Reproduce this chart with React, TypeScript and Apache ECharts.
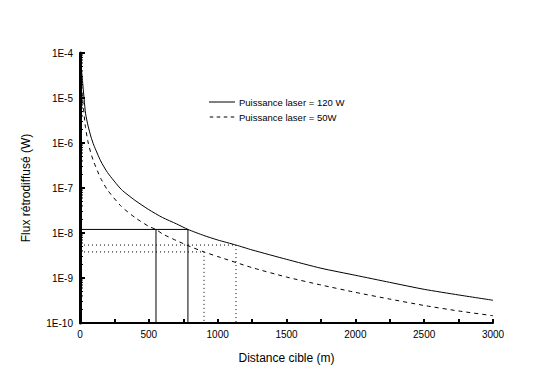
import React, { useEffect, useRef } from "react";
import * as echarts from "echarts";

const distances120 = [4, 10, 20, 40, 60, 80, 100, 150, 200, 300, 400, 500, 600, 700, 784, 900, 1000, 1133, 1250, 1500, 1750, 2000, 2250, 2500, 2750, 3000];
const flux120 = [1e-4, 4.5e-5, 2.1e-5, 4.6e-6, 2.3e-6, 1.36e-6, 9e-7, 4.0e-7, 2.2e-7, 9.3e-8, 5.3e-8, 3.3e-8, 2.2e-8, 1.6e-8, 1.2e-8, 8.8e-9, 7.0e-9, 5.4e-9, 4.2e-9, 2.6e-9, 1.65e-9, 1.15e-9, 8.0e-10, 5.6e-10, 4.2e-10, 3.2e-10];

const distances50 = [8, 20, 40, 60, 80, 100, 150, 200, 300, 400, 500, 552, 600, 700, 800, 901, 1000, 1250, 1500, 1750, 2000, 2250, 2500, 2750, 3000];
const flux50 = [3e-5, 9e-6, 2.2e-6, 1.0e-6, 5.8e-7, 3.8e-7, 1.65e-7, 9e-8, 3.9e-8, 2.2e-8, 1.4e-8, 1.2e-8, 9.5e-9, 6.8e-9, 5.0e-9, 3.8e-9, 3.0e-9, 1.7e-9, 1.05e-9, 7.0e-10, 4.8e-10, 3.4e-10, 2.45e-10, 1.85e-10, 1.45e-10];

// Reference lines (solid): level and the two distances where each curve reaches it
const solidLevel = 1.2e-8;
const solidDistances = [552, 784];
// Dotted references: [distance, level]
const dottedRefs = [[1133, 5.4e-9], [901, 3.8e-9]];

const yMin = 1e-10;
const yMax = 1e-4;
const yTickExponents = [-10, -9, -8, -7, -6, -5, -4];

const name120 = "Puissance laser = 120 W";
const name50 = "Puissance laser = 50W";

const FONT = "Liberation Sans";

export default function App() {
  const ref = useRef<HTMLDivElement>(null);
  useEffect(() => {
    const chart = echarts.init(ref.current!, undefined, { renderer: "svg" });

    const minorTicks: number[][] = [];
    for (let e = yTickExponents[0]; e < yTickExponents[yTickExponents.length - 1]; e++) {
      for (let k = 2; k <= 9; k++) minorTicks.push([0, k * Math.pow(10, e)]);
    }

    const refStyle = { color: "#000", width: 1 };
    const series: any[] = [
      {
        name: name120,
        type: "line",
        data: distances120.map((d, i) => [d, flux120[i]]),
        showSymbol: false,
        symbol: "none",
        smooth: 0.2,
        lineStyle: { color: "#000", width: 1, type: "solid" },
        itemStyle: { color: "#000" },
        z: 5,
      },
      {
        name: name50,
        type: "line",
        data: distances50.map((d, i) => [d, flux50[i]]),
        showSymbol: false,
        symbol: "none",
        smooth: 0.2,
        lineStyle: { color: "#000", width: 1, type: [4, 4] },
        itemStyle: { color: "#000" },
        z: 5,
      },
      {
        name: "refSolidH",
        type: "line",
        data: [[0, solidLevel], [Math.max(...solidDistances), solidLevel]],
        symbol: "none",
        lineStyle: { ...refStyle, type: "solid" },
        silent: true,
      },
      ...solidDistances.map((d, i) => ({
        name: "refSolidV" + i,
        type: "line",
        data: [[d, solidLevel], [d, yMin]],
        symbol: "none",
        lineStyle: { ...refStyle, type: "solid" },
        silent: true,
      })),
      ...dottedRefs.map(([d, v], i) => ({
        name: "refDot" + i,
        type: "line",
        data: [[0, v], [d, v], [d, yMin]],
        symbol: "none",
        lineStyle: { ...refStyle, type: [1, 3] },
        silent: true,
      })),
      {
        name: "minorTicks",
        type: "custom",
        data: minorTicks,
        silent: true,
        clip: false,
        renderItem: (params: any, api: any) => {
          const p = api.coord([api.value(0), api.value(1)]);
          return {
            type: "line",
            shape: { x1: p[0], y1: p[1], x2: p[0] + 3, y2: p[1] },
            style: { stroke: "#000", lineWidth: 1 },
          };
        },
        z: 10,
      },
    ];

    chart.setOption({
      animation: false,
      backgroundColor: "#fff",
      textStyle: { fontFamily: FONT },
      grid: { left: 80, right: 50, top: 53, bottom: 58 },
      legend: {
        data: [
          { name: name120, icon: "path://M0,0H26V1H0Z" },
          {
            name: name50,
            icon: "path://M0,0H3.5V1H0Z M7,0H10.5V1H7Z M14,0H17.5V1H14Z M21,0H24.5V1H21Z",
          },
        ],
        orient: "vertical",
        left: 209,
        top: 97,
        padding: 0,
        itemWidth: 26,
        itemHeight: 1,
        itemGap: 5,
        itemStyle: { color: "#000", borderWidth: 0 },
        textStyle: { fontFamily: FONT, fontSize: 9.5, color: "#000", padding: [0, 0, 0, -1] },
        selectedMode: false,
      },
      xAxis: {
        type: "value",
        min: 0,
        max: 3000,
        interval: 250,
        name: "Distance cible (m)",
        nameLocation: "middle",
        nameGap: 29,
        nameTextStyle: { fontFamily: FONT, fontSize: 12, color: "#000" },
        axisLine: { lineStyle: { color: "#000", width: 2 } },
        axisTick: { inside: true, length: 4, lineStyle: { color: "#000", width: 2 } },
        axisLabel: {
          fontFamily: FONT,
          fontSize: 10,
          color: "#000",
          margin: 6,
          formatter: (v: number) => (v % 500 === 0 ? String(v) : ""),
        },
        splitLine: { show: false },
      },
      yAxis: {
        type: "log",
        logBase: 10,
        min: yMin,
        max: yMax,
        name: "Flux rétrodiffusé (W)",
        nameLocation: "middle",
        nameGap: 48,
        nameTextStyle: { fontFamily: FONT, fontSize: 12, color: "#000" },
        axisLine: { lineStyle: { color: "#000", width: 3 } },
        axisTick: { inside: true, length: 5, lineStyle: { color: "#000", width: 2 } },
        axisLabel: {
          fontFamily: FONT,
          fontSize: 10,
          color: "#000",
          margin: 7,
          formatter: (v: number) => "1E" + Math.round(Math.log10(v)),
        },
        splitLine: { show: false },
      },
      series,
    });
    return () => chart.dispose();
  }, []);
  return <div ref={ref} style={{ width: 543, height: 381, position: "absolute", left: 0, top: 0 }} />;
}
